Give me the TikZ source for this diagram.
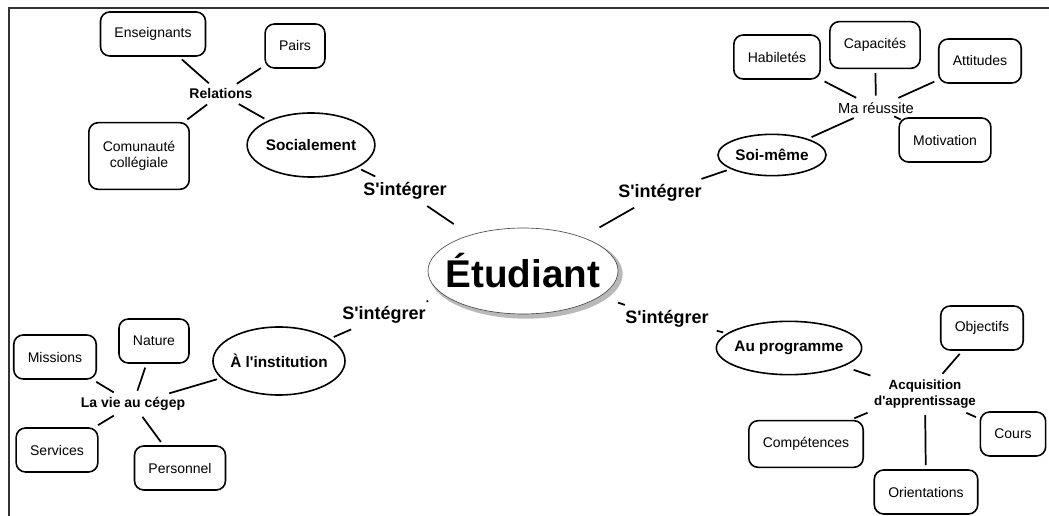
\documentclass[tikz,border=0pt]{standalone}
\usepackage{fontspec}
\setmainfont{Liberation Sans}
\usetikzlibrary{shapes.geometric}
\begin{document}
\begin{tikzpicture}[x=0.75pt,y=-0.75pt,
		box/.style={draw, rounded corners=7pt, line width=1.2pt, minimum height=33pt, inner xsep=10.5pt, font=\fontsize{10.5}{12}\selectfont},
		oval/.style={draw, ellipse, line width=1.2pt, inner sep=0pt, font=\bfseries\fontsize{11.5}{13}\selectfont},
		hub/.style={inner sep=2pt, font=\bfseries\fontsize{10.5}{12}\selectfont},
		verb/.style={inner sep=3pt, font=\bfseries\fontsize{13.5}{15}\selectfont},
		link/.style={line width=1.3pt, shorten <=3pt, shorten >=3pt}]
				\useasboundingbox (0,0) rectangle (1049,516);
				\draw[line width=1.4pt, black!80] (8,8) -- (1049,8);
				\draw[line width=1.4pt, black!80] (9,8) -- (9,516);
				\fill[gray!55] (526,274) ellipse [x radius=72.5pt, y radius=33.5pt];
				\node[ellipse, draw=black!70, fill=white, line width=0.5pt, inner xsep=-7.6pt, inner ysep=0pt, minimum width=142.5pt, minimum height=64.5pt, outer sep=10pt, font=\bfseries\fontsize{29}{30}\selectfont] (etu) at (523,271) {Étudiant};
				\node[box] (ens) at (153,34) {Enseignants};
				\node[box] (pairs) at (295,46) {Pairs};
				\node[hub] (rel) at (221,94) {Relations};
				\node[box, align=center, minimum height=50pt] (comu) at (139,156) {Comunauté\\collégiale};
				\node[oval, minimum width=91.5pt, minimum height=48pt] (soc) at (311,145) {Socialement};
				\node[verb] (int1) at (405,191) {S\textquotesingle intégrer};
				\node[verb] (int2) at (660,193) {S\textquotesingle intégrer};
				\node[oval, minimum width=81pt, minimum height=31pt] (soi) at (772,155) {Soi-même};
				\node[hub, font=\fontsize{11}{13}\selectfont] (reu) at (876,108) {Ma réussite};
				\node[box] (hab) at (777,57) {Habiletés};
				\node[box, minimum height=35pt] (cap) at (875,45) {Capacités};
				\node[box] (att) at (980,61) {Attitudes};
				\node[box] (moti) at (945,140) {Motivation};
				\node[verb] (int3) at (384,315) {S\textquotesingle intégrer};
				\node[oval, inner xsep=-2.9pt, minimum width=99pt, minimum height=51pt] (inst) at (279,361) {À l\textquotesingle institution};
				\node[hub] (vie) at (133,404) {La vie au cégep};
				\node[box] (miss) at (55,357) {Missions};
				\node[box] (nat) at (154,341) {Nature};
				\node[box] (serv) at (57,450) {Services};
				\node[box] (pers) at (180,468) {Personnel};
				\node[verb] (int4) at (667,319) {S\textquotesingle intégrer};
				\node[oval, inner xsep=-4.3pt, minimum width=109pt, minimum height=40pt] (prog) at (789,348) {Au programme};
				\node[hub, align=center, font=\bfseries\fontsize{10}{12}\selectfont] (acq) at (925,394) {Acquisition\\d\textquotesingle apprentissage};
				\node[box] (obj) at (982,328) {Objectifs};
				\node[box] (cours) at (1013,434) {Cours};
				\node[box, minimum height=35pt] (comp) at (806,444) {Compétences};
				\node[box] (orient) at (926,492) {Orientations};
				\draw[link] (ens) -- (rel);
				\draw[link] (pairs) -- (rel);
				\draw[link] (comu) -- (rel);
				\draw[link] (rel) -- (soc);
				\draw[link] (soc) -- (int1);
				\draw[link] (int1) -- (etu);
				\draw[link] (etu) -- (int2);
				\draw[link] (int2) -- (soi);
				\draw[link] (soi) -- (reu);
				\draw[link] (hab) -- (reu);
				\draw[link] (cap) -- (reu);
				\draw[link] (att) -- (reu);
				\draw[link, shorten <=0pt, shorten >=-2pt] (reu) -- (moti);
				\draw[link] (etu) -- (int3);
				\draw[link] (int3) -- (inst);
				\draw[link] (inst) -- (vie);
				\draw[link] (miss) -- (vie);
				\draw[link] (nat) -- (vie);
				\draw[link] (serv) -- (vie);
				\draw[link] (vie) -- (pers);
				\draw[link] (etu) -- (int4);
				\draw[link] (int4) -- (prog);
				\draw[link, shorten <=8pt] (prog) -- (acq);
				\draw[link] (obj) -- (acq);
				\draw[link] (acq) -- (cours);
				\draw[link] (acq.south west) -- ([xshift=-10pt]comp.north east);
				\draw[link] (acq) -- (orient);
			\end{tikzpicture}
\end{document}
